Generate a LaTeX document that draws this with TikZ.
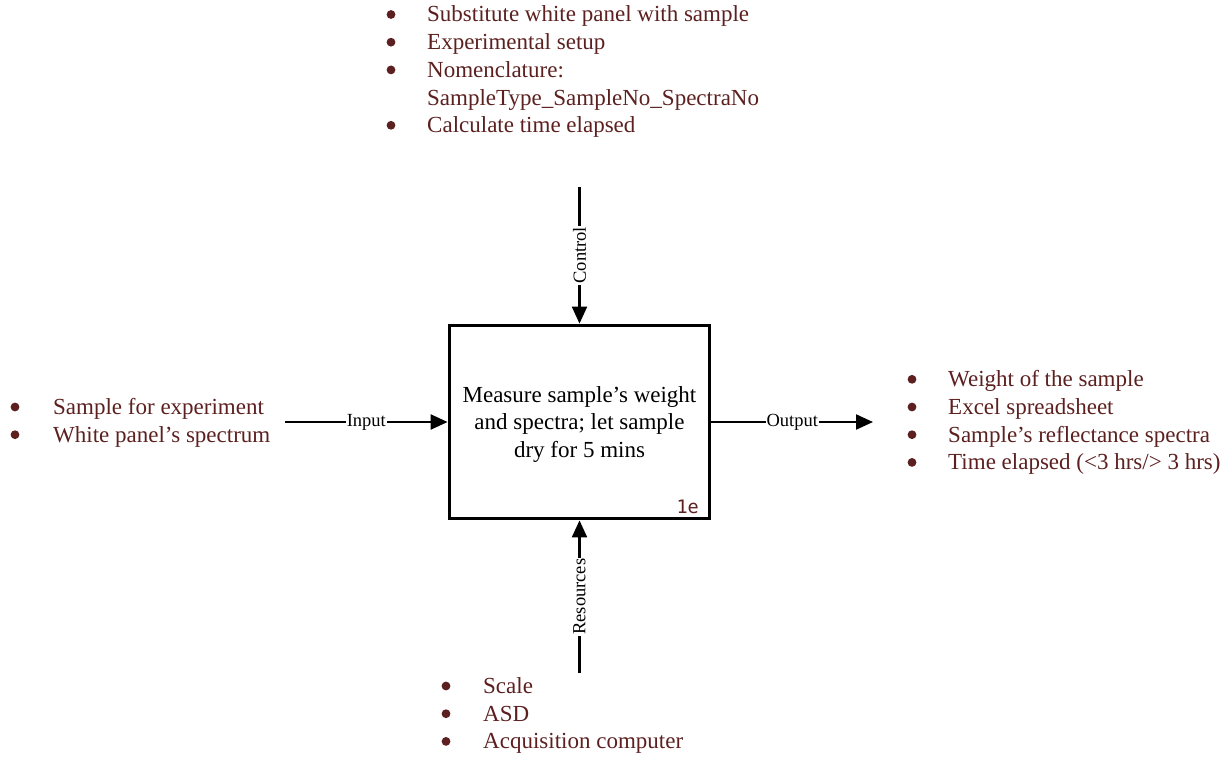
\documentclass[tikz,border=0pt]{standalone}
\usepackage{fontspec}
\setmainfont{Liberation Serif}
\newfontfamily\codefont{DejaVu Sans Mono}
\usetikzlibrary{arrows.meta}
\definecolor{itemred}{RGB}{92,32,32}
\begin{document}
\begin{tikzpicture}[x=1pt,y=-1pt,
  process/.style={draw=black,line width=3.8pt,minimum width=260pt,minimum height=193pt,inner sep=0pt},
  flow/.style={line width=2.2pt,-{Triangle[length=17pt,width=15pt]}},
  flowlabel/.style={fill=white,inner xsep=1pt,inner ysep=0pt,font=\fontsize{18.5}{20}\selectfont},
  item/.style={anchor=base west,inner sep=0pt,text=itemred,font=\fontsize{23}{27.7}\selectfont},
  boxtext/.style={align=center,inner sep=0pt,font=\fontsize{23}{27.7}\selectfont},
  bulletdot/.style={fill=itemred}]
\useasboundingbox (0,0) rectangle (1228,757);

% activity box
\node[process] (proc) at (579.5,422) {};
\node[boxtext,anchor=base] (ptext) at (579.5,457.4) {Measure sample’s weight\\and spectra; let sample\\dry for 5 mins};
\node[anchor=base east,inner sep=0pt,text=itemred,font=\codefont\fontsize{18.5}{20}\selectfont] (pid) at (699,513) {1e};

% ICOM connectors
\coordinate (inS) at (285,422);
\coordinate (outE) at (873,422);
\coordinate (ctlS) at (579.5,187);
\coordinate (resS) at (579.5,673);
\draw[flow] (inS) -- node[flowlabel] (inlbl) {Input} (proc.west);
\draw[flow] (proc.east) -- node[flowlabel] (outlbl) {Output} (outE);
\draw[flow] (ctlS) -- node[flowlabel,rotate=90] (ctllbl) {Control} (proc.north);
\draw[flow] (resS) -- node[flowlabel,rotate=90] (reslbl) {Resources} (proc.south);

% control items
\foreach \t [count=\i] in {Substitute white panel with sample,Experimental setup,Nomenclature:}
  \node[item] (c\i) at (427,{22+27.7*(\i-1)}) {\t};
\node[item] (c4) at (427,105.1) {SampleType\_SampleNo\_SpectraNo};
\node[item] (c5) at (427,132.8) {Calculate time elapsed};
\foreach \y in {22,49.7,77.4,132.8}
  \fill[bulletdot] (391,\y-7.5) circle (4.4);

% input items
\node[item] (i1) at (53,414.5) {Sample for experiment};
\node[item] (i2) at (53,442.2) {White panel’s spectrum};
\foreach \y in {414.5,442.2}
  \fill[bulletdot] (15,\y-7.5) circle (4.4);

% output items
\node[item] (o1) at (948,386.8) {Weight of the sample};
\node[item] (o2) at (948,414.5) {Excel spreadsheet};
\node[item] (o3) at (948,442.2) {Sample’s reflectance spectra};
\node[item] (o4) at (948,469.9) {Time elapsed (<3 hrs/> 3 hrs)};
\foreach \y in {386.8,414.5,442.2,469.9}
  \fill[bulletdot] (912,\y-7.5) circle (4.4);

% resource items
\node[item] (r1) at (483,693.5) {Scale};
\node[item] (r2) at (483,721.2) {ASD};
\node[item] (r3) at (483,748.9) {Acquisition computer};
\foreach \y in {693.5,721.2,748.9}
  \fill[bulletdot] (446,\y-7.5) circle (4.4);
\end{tikzpicture}
\end{document}
